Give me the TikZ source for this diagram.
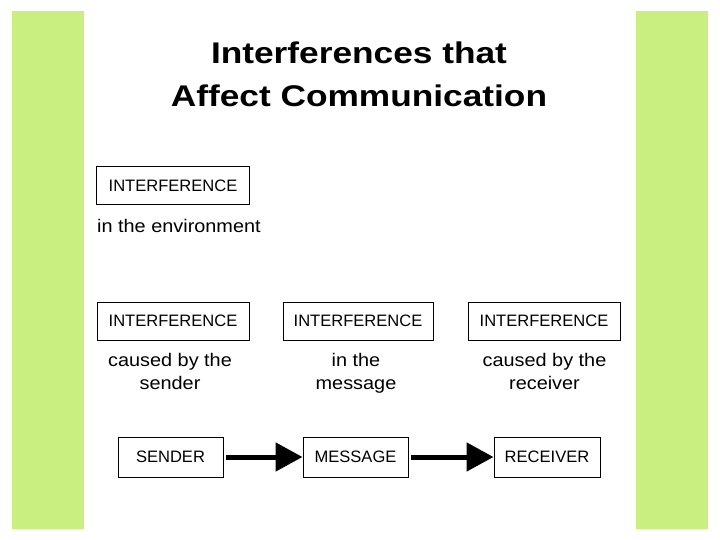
\documentclass[tikz,border=0pt]{standalone}
\usepackage{fontspec}
\setmainfont{Liberation Sans}
\newfontfamily\titlefont[FakeStretch=1.18]{Liberation Sans}
\newfontfamily\labelfont[FakeStretch=1.09]{Liberation Sans}
\usepackage{tikz}
\usetikzlibrary{arrows.meta, positioning}
\definecolor{sidegreen}{RGB}{201,240,126}
\tikzset{
	intbox/.style={draw, line width=1bp, inner sep=0pt, minimum height=38bp, minimum width=#1, font=\fontsize{16.6}{20}\selectfont},
	intbox/.default=153bp,
	partbox/.style={draw, line width=1bp, inner sep=0pt, minimum height=40bp, minimum width=105bp, font=\fontsize{16.6}{20}\selectfont},
	causetext/.style={anchor=north, inner sep=0pt, align=center, font=\labelfont\fontsize{18.3}{23}\selectfont},
	flowarr/.style={-{Triangle[length=27bp, width=28bp]}, line width=5bp, shorten <=2bp},
}

\begin{document}
\begin{tikzpicture}[x=1bp, y=-1bp]
	\useasboundingbox (0,0) rectangle (720,540);
	% green side bars
	\fill[sidegreen] (12,11) rectangle (84,529);
	\fill[sidegreen] (636,11) rectangle (708,529);
	% title
	\node[anchor=north, inner sep=0pt, align=center, font=\titlefont\bfseries\fontsize{30}{43}\selectfont] (title) at (359,42) {Interferences that\\Affect Communication};
	% environment
	\node[intbox] (envbox) at (173,186) {INTERFERENCE};
	\node[anchor=base west, inner sep=0pt, font=\labelfont\fontsize{18.3}{23}\selectfont] (envtext) at (97,233) {in the environment};
	% sender, message, receiver interference
	\node[intbox=152bp] (sendbox) at (173,321) {INTERFERENCE};
	\node[intbox=150bp] (msgbox) at (358,321) {INTERFERENCE};
	\node[intbox=152bp] (recvbox) at (544,321) {INTERFERENCE};
	\node[causetext] (sendtext) at (170,353.4) {caused by the\\sender};
	\node[causetext] (msgtext) at (356,353.4) {in the\\message};
	\node[causetext] (recvtext) at (544.5,353.4) {caused by the\\receiver};
	% communication chain
	\node[partbox] (sender) at (170.5,457) {SENDER};
	\node[partbox] (message) at (355.5,457) {MESSAGE};
	\node[partbox, minimum width=106bp] (receiver) at (547,457) {RECEIVER};
	\draw[flowarr] (sender) -- (message);
	\draw[flowarr] (message) -- (receiver);
\end{tikzpicture}
\end{document}
